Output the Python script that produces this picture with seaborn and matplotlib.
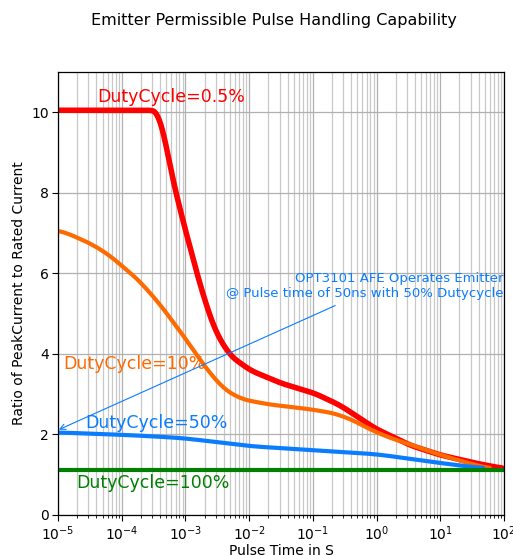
import numpy as np
import pandas as pd
import seaborn as sns
import matplotlib
matplotlib.use("Agg")
import matplotlib.pyplot as plt

# Data (pulse time in s, ratio of peak current to rated current)
t_red = [1e-5, 1e-4, 3.0e-4, 3.6e-4, 4.0e-4, 5.7e-4, 8.3e-4, 1.17e-3, 1.7e-3, 2.9e-3, 5.0e-3, 1.05e-2, 3.2e-2, 1.07e-1, 2.7e-1, 9.5e-1, 3.4, 1.0e1, 3.5e1, 9.3e1]
r_red = [10.05, 10.05, 10.05, 10.03, 9.95, 8.66, 7.55, 6.68, 5.7, 4.58, 3.96, 3.59, 3.27, 3.02, 2.72, 2.15, 1.73, 1.49, 1.29, 1.16]

t_orange = [1e-5, 4.6e-5, 9.3e-5, 2.8e-4, 3.5e-4, 8.3e-4, 1.7e-3, 3.2e-3, 5.6e-3, 1.0e-2, 1.5e-2, 1.0e-1, 3.0e-1, 1.02, 1.0e1, 6.0e1]
r_orange = [7.1, 6.63, 6.24, 5.57, 5.32, 4.58, 3.84, 3.27, 2.92, 2.85, 2.77, 2.62, 2.48, 2.03, 1.49, 1.14]

t_blue = [1e-5, 1.5e-4, 9.1e-4, 5.6e-3, 1.0e-2, 1.0e-1, 1.0, 1.0e1, 4.7e1]
r_blue = [2.05, 1.98, 1.91, 1.76, 1.71, 1.61, 1.51, 1.29, 1.16]

t_green = [1e-5, 1e2]
r_green = [1.12, 1.12]

labels = ["DutyCycle=0.5%", "DutyCycle=10%", "DutyCycle=50%", "DutyCycle=100%"]
colors = ["#ff0000", "#ff6a00", "#0a7dff", "#007f00"]

title = "Emitter Permissible Pulse Handling Capability"
xlabel = "Pulse Time in S"
ylabel = "Ratio of PeakCurrent to Rated Current"
note = "OPT3101 AFE Operates Emitter\n@ Pulse time of 50ns with 50% Dutycycle"

sns.set_style("white")
plt.rcParams['font.family'] = ['DejaVu Sans']
plt.rcParams['text.color'] = 'black'
plt.rcParams['axes.labelcolor'] = 'black'
plt.rcParams['xtick.color'] = 'black'
plt.rcParams['ytick.color'] = 'black'

fig = plt.figure(figsize=(5.13, 5.55), dpi=100)
ax = fig.add_axes([58/513, 1-515/555, (504-58)/513, (515-72)/555])

# smooth in log-space for display
def smooth(t, r, k, n=400):
    lt = np.log10(t)
    xs = np.linspace(lt[0], lt[-1], n)
    ys = np.interp(xs, lt, r)
    pad = np.pad(ys, k//2, mode='edge')
    ys2 = np.convolve(pad, np.ones(k)/k, mode='valid')
    return 10**xs, ys2

series = [(t_red, r_red, 4.0, 13), (t_orange, r_orange, 3.0, 31), (t_blue, r_blue, 3.0, 31), (t_green, r_green, 3.0, 1)]
for (t, r, lw, k), lab, c in zip(series, labels, colors):
    xs, ys = smooth(t, r, k)
    df = pd.DataFrame({"t": xs, "r": ys})
    sns.lineplot(data=df, x="t", y="r", ax=ax, color=c, linewidth=lw, estimator=None, sort=False)

ax.set_xscale("log")
ax.set_xlim(1e-5, 1e2)
ax.set_ylim(0, 11)
ax.set_yticks([0, 2, 4, 6, 8, 10])
ax.grid(True, which="major", color="#b0b0b0", linewidth=0.9)
ax.grid(True, which="minor", color="#c8c8c8", linewidth=0.9)
for s in ax.spines.values():
    s.set_color("black")
    s.set_linewidth(0.9)
ax.tick_params(axis="both", which="major", direction="out", length=4, width=0.8, labelsize=10, left=True, bottom=True, pad=2.5)
ax.tick_params(axis="x", which="minor", direction="out", length=2, width=0.6, bottom=True)
ax.set_xlabel(xlabel, fontsize=10, labelpad=1)
ax.set_ylabel(ylabel, fontsize=10, labelpad=4)

ax.text(4.1e-5, 10.37, labels[0], color=colors[0], fontsize=12.5, va="center", ha="left")
ax.text(1.2e-5, 3.75, labels[1], color=colors[1], fontsize=12.5, va="center", ha="left")
ax.text(2.65e-5, 2.28, labels[2], color=colors[2], fontsize=12.5, va="center", ha="left")
ax.text(1.9e-5, 0.8, labels[3], color=colors[3], fontsize=12.5, va="center", ha="left")

ax.text(98, 5.35, note, color=colors[2], fontsize=9.5, ha="right", va="bottom", multialignment="right")
ax.annotate("", xy=(1.03e-5, 2.12), xytext=(0.224, 5.2), textcoords="data",
            arrowprops=dict(arrowstyle="->", color=colors[2], lw=0.8, shrinkA=0, shrinkB=0))

fig.text(274/513, 1-20/555, title, fontsize=11.5, ha="center", va="center")

fig.savefig("out.png", dpi=100)
